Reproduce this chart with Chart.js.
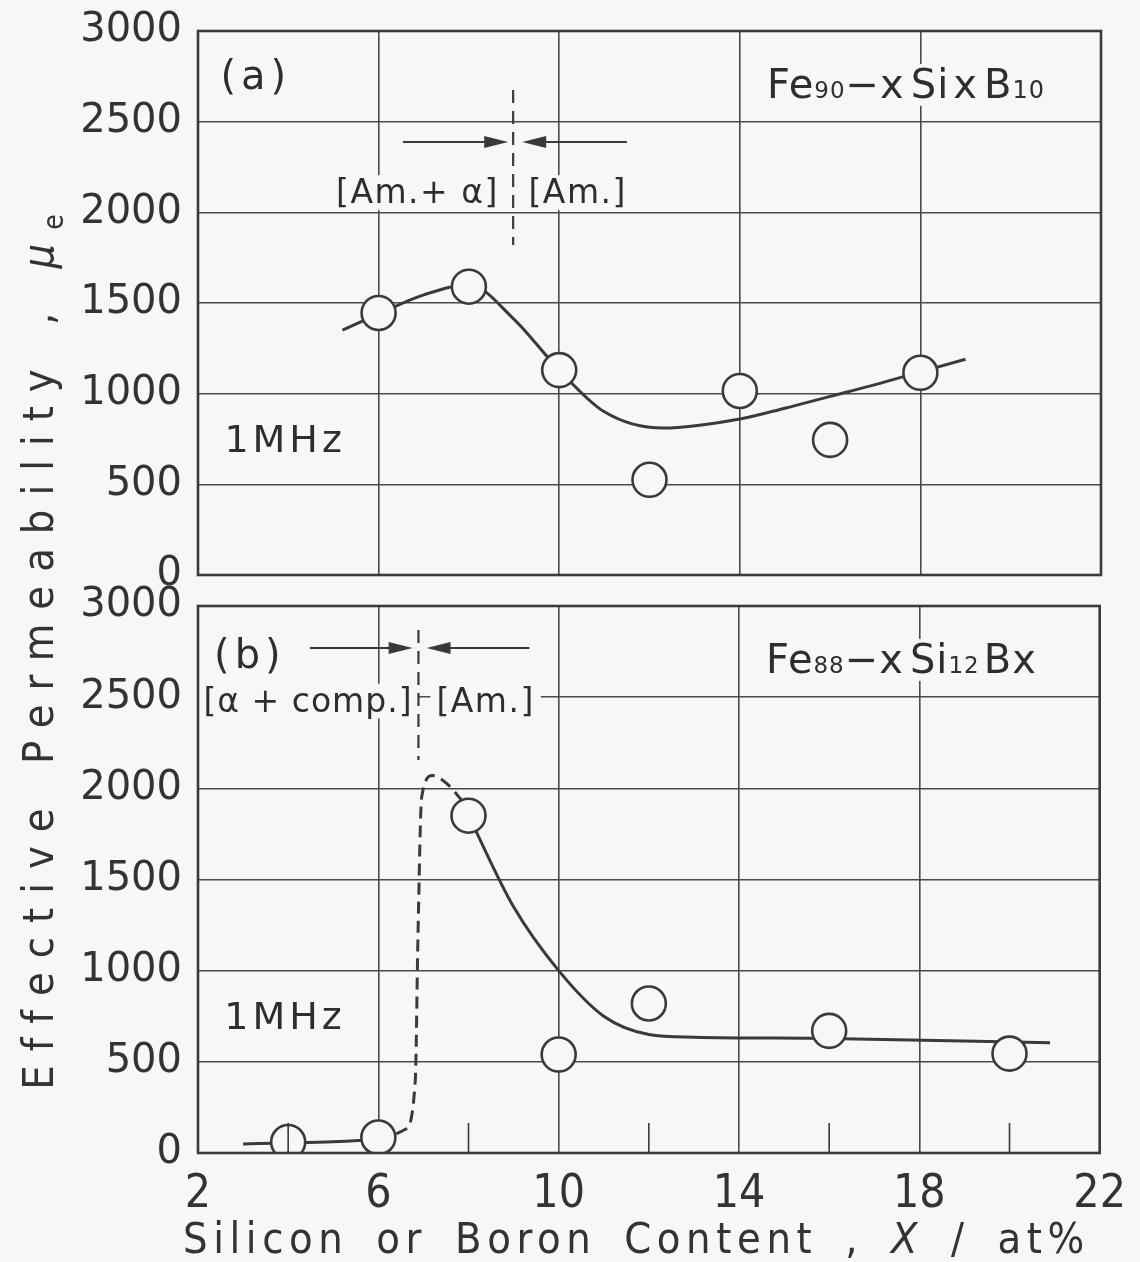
<!DOCTYPE html>
<html>
<head>
<meta charset="utf-8">
<script src="https://cdn.jsdelivr.net/npm/chart.js@4.4.1/dist/chart.umd.min.js"></script>
<style>
  body { margin: 0; background: #f7f7f5; width: 1140px; height: 1262px; position: relative; overflow: hidden; }
  canvas { position: absolute; left: 0; }
  #chartA { top: -9px; }
  #chartB { top: 566px; }
  .ytitle {
    position: absolute; left: 38px; top: 645px; width: 1100px; height: 50px;
    margin-left: -550px; margin-top: -25px; transform: rotate(-90deg);
    text-align: center; line-height: 50px; color: #333;
    font: 43px "Liberation Sans Narrow", "DejaVu Sans Condensed", sans-serif;
    letter-spacing: 14px; word-spacing: 4px; white-space: nowrap;
  }
  .xtitle {
    position: absolute; left: 183px; top: 1213px; width: 960px; color: #333;
    font: 43px "Liberation Sans Narrow", "DejaVu Sans Condensed", sans-serif;
    letter-spacing: 5.6px; word-spacing: 10px; white-space: nowrap;
  }
</style>
</head>
<body>
<canvas id="chartA" width="1140" height="626"></canvas>
<canvas id="chartB" width="1140" height="696"></canvas>
<div class="ytitle">Effective Permeability , <i>μ</i><sub style="font-size:28px">e</sub></div>
<div class="xtitle">Silicon or Boron Content , <i>X</i> / at%</div>
<script>
const bg = "#f7f7f5";
const ink = "#3a3a3a";

// axes
const xTicks = [2, 6, 10, 14, 18, 22];
const yTicks = [0, 500, 1000, 1500, 2000, 2500, 3000];
const minorTicks = [4, 8, 12, 16, 20];

// (a) Fe90-xSixB10, measured points and fitted curve
const siContent = [6, 8, 10, 12, 14, 16, 18];
const muSi = [1445, 1590, 1130, 525, 1015, 745, 1115];
const fitSiX = [5.2, 6, 7, 8, 9, 10, 11, 12.3, 14, 15, 16, 17, 18, 19];
const fitSiY = [1350, 1440, 1545, 1600, 1410, 1130, 900, 810, 860, 920, 985, 1050, 1120, 1190];
const boundSi = 8.98;

// (b) Fe88-xSi12Bx
const bContent = [4, 6, 8, 10, 12, 16, 20];
const muB = [60, 85, 1850, 540, 820, 670, 545];
const fitBLowX = [3.0, 4, 5, 6];
const fitBLowY = [50, 55, 62, 75];
const fitBDashX = [6, 6.6, 6.82, 6.88, 6.96, 7.2, 7.5, 7.9];
const fitBDashY = [75, 130, 400, 1200, 1950, 2070, 2030, 1920];
const fitBX = [8, 9, 10, 11, 12, 13, 16, 20.9];
const fitBY = [1850, 1350, 1000, 750, 650, 635, 628, 605];
const boundB = 6.89;

const pts = (xs, ys) => xs.map((x, i) => ({ x: x, y: ys[i] }));

const fontText = "DejaVu Sans";

// frame, boundary, arrows and labels drawn through the chart scales
const panelDecor = {
  id: "panelDecor",
  afterDatasetsDraw(chart, args, o) {
    const ctx = chart.ctx, xs = chart.scales.x, ys = chart.scales.y, a = chart.chartArea;
    const px = v => xs.getPixelForValue(v), py = v => ys.getPixelForValue(v);
    ctx.save();
    ctx.textBaseline = "alphabetic";
    // label backgrounds
    const boxes = [];
    o.labels.forEach(l => {
      const segs = l.segs || [{ t: l.text, s: l.size }];
      let w = 0;
      segs.forEach(sg => {
        ctx.font = sg.s + "px '" + fontText + "'";
        ctx.letterSpacing = (l.ls || 0) + "px";
        sg.w = ctx.measureText(sg.t).width + (sg.gap || 0);
        w += sg.w;
      });
      let x0 = px(l.x);
      if (l.align === "center") x0 -= w / 2;
      const yb = py(l.y);
      boxes.push({ l, segs, x0, yb, w });
      ctx.fillStyle = bg;
      ctx.fillRect(x0 - 6, yb - l.size * 0.85, w + 12, l.size * 1.05);
    });
    // minor ticks on the bottom axis
    ctx.strokeStyle = ink;
    ctx.lineWidth = 1.6;
    (o.minor || []).forEach(v => {
      ctx.beginPath();
      ctx.moveTo(px(v), a.bottom);
      ctx.lineTo(px(v), a.bottom - 30);
      ctx.stroke();
    });
    // phase boundary
    ctx.lineWidth = 2.2;
    ctx.setLineDash([13, 8]);
    ctx.beginPath();
    ctx.moveTo(px(o.bound.x), py(o.bound.y1));
    ctx.lineTo(px(o.bound.x), py(o.bound.y2));
    ctx.stroke();
    ctx.setLineDash([]);
    // arrows
    o.arrows.forEach(ar => {
      const x1 = px(ar.from), x2 = px(ar.to), y = py(ar.y);
      const dir = Math.sign(x2 - x1);
      ctx.lineWidth = 2;
      ctx.beginPath();
      ctx.moveTo(x1, y);
      ctx.lineTo(x2 - dir * 10, y);
      ctx.stroke();
      ctx.fillStyle = ink;
      ctx.beginPath();
      ctx.moveTo(x2, y);
      ctx.lineTo(x2 - dir * 24, y - 6);
      ctx.lineTo(x2 - dir * 24, y + 6);
      ctx.closePath();
      ctx.fill();
    });
    // text
    ctx.fillStyle = "#2e2e2e";
    boxes.forEach(b => {
      let x = b.x0;
      b.segs.forEach(sg => {
        ctx.font = sg.s + "px '" + fontText + "'";
        ctx.letterSpacing = (b.l.ls || 0) + "px";
        ctx.fillText(sg.t, x, b.yb);
        x += sg.w;
      });
    });
    ctx.letterSpacing = "0px";
    // frame
    ctx.lineWidth = 2.6;
    ctx.strokeStyle = ink;
    ctx.strokeRect(a.left, a.top, a.right - a.left, a.bottom - a.top);
    ctx.restore();
  }
};

function makeChart(id, datasets, decor, pad, showX, xHeight) {
  return new Chart(document.getElementById(id), {
    type: "scatter",
    data: { datasets: datasets },
    plugins: [panelDecor],
    options: {
      responsive: false,
      animation: false,
      layout: { padding: pad, autoPadding: false },
      plugins: { legend: { display: false }, tooltip: { enabled: false }, panelDecor: decor },
      scales: {
        x: {
          type: "linear", min: 2, max: 22,
          afterBuildTicks: s => { s.ticks = xTicks.map(v => ({ value: v })); },
          afterFit: s => { s.height = xHeight; },
          border: { display: false },
          grid: { color: "#4a4a4a", lineWidth: 1.6, drawTicks: false },
          ticks: {
            display: showX, padding: 14, color: "#333",
            font: { family: "'Liberation Sans Narrow', 'DejaVu Sans Condensed', sans-serif", size: 46 }
          }
        },
        y: {
          min: 0, max: 3000,
          afterBuildTicks: s => { s.ticks = yTicks.map(v => ({ value: v })); },
          afterFit: s => { s.width = 198; },
          border: { display: false },
          grid: { color: "#4a4a4a", lineWidth: 1.6, drawTicks: false },
          ticks: {
            padding: 16, color: "#333", font: { family: "'DejaVu Sans'", size: 40 },
            callback: v => String(v)
          }
        }
      }
    }
  });
}

const circleStyle = {
  showLine: false, pointRadius: 17, pointBorderWidth: 2.6,
  pointBorderColor: ink, pointBackgroundColor: bg
};
const curveStyle = {
  showLine: true, pointRadius: 0, borderColor: ink, borderWidth: 3,
  cubicInterpolationMode: "monotone"
};

makeChart("chartA", [
  Object.assign({ data: pts(siContent, muSi) }, circleStyle),
  Object.assign({ data: pts(fitSiX, fitSiY) }, curveStyle)
], {
  bound: { x: boundSi, y1: 2675, y2: 1820 },
  arrows: [{ from: 6.54, to: 8.87, y: 2388 }, { from: 11.5, to: 9.18, y: 2388 }],
  labels: [
    { text: "(a)", x: 3.28, y: 2680, size: 40, ls: 5, align: "center" },
    { text: "[Am.+ α]", x: 6.86, y: 2050, size: 33, ls: 1.5, align: "center" },
    { text: "[Am.]", x: 10.41, y: 2050, size: 33, ls: 1.5, align: "center" },
    { text: "1MHz", x: 3.93, y: 680, size: 38, ls: 4, align: "center" },
    { x: 14.6, y: 2631, size: 40, ls: 1, segs: [
      { t: "Fe", s: 40 }, { t: "90", s: 23 }, { t: "−x", s: 40, gap: 6 },
      { t: "Si", s: 40, gap: 4 }, { t: "x", s: 40, gap: 6 }, { t: "B", s: 40 }, { t: "10", s: 24 }
    ] }
  ]
}, { top: 40, right: 39, bottom: 42, left: 0 }, false, 0);

makeChart("chartB", [
  Object.assign({ data: pts(bContent, muB) }, circleStyle),
  Object.assign({ data: pts(fitBLowX, fitBLowY) }, curveStyle),
  Object.assign({ data: pts(fitBDashX, fitBDashY), borderDash: [12, 7], borderWidth: 2.4 }, curveStyle),
  Object.assign({ data: pts(fitBX, fitBY) }, curveStyle)
], {
  bound: { x: boundB, y1: 2869, y2: 2156 },
  minor: minorTicks,
  arrows: [{ from: 4.48, to: 6.76, y: 2770 }, { from: 9.35, to: 7.07, y: 2770 }],
  labels: [
    { text: "(b)", x: 3.15, y: 2660, size: 40, ls: 5, align: "center" },
    { text: "[α + comp.]", x: 4.44, y: 2420, size: 33, ls: 1, align: "center" },
    { text: "[Am.]", x: 8.38, y: 2420, size: 33, ls: 1.5, align: "center" },
    { text: "1MHz", x: 3.93, y: 680, size: 38, ls: 4, align: "center" },
    { x: 14.6, y: 2633, size: 40, ls: 1, segs: [
      { t: "Fe", s: 40 }, { t: "88", s: 23 }, { t: "−x", s: 40, gap: 6 },
      { t: "Si", s: 40 }, { t: "12", s: 23, gap: 4 }, { t: "Bx", s: 40 }
    ] }
  ]
}, { top: 40, right: 40, bottom: 0, left: 0 }, true, 109);
</script>
</body>
</html>
